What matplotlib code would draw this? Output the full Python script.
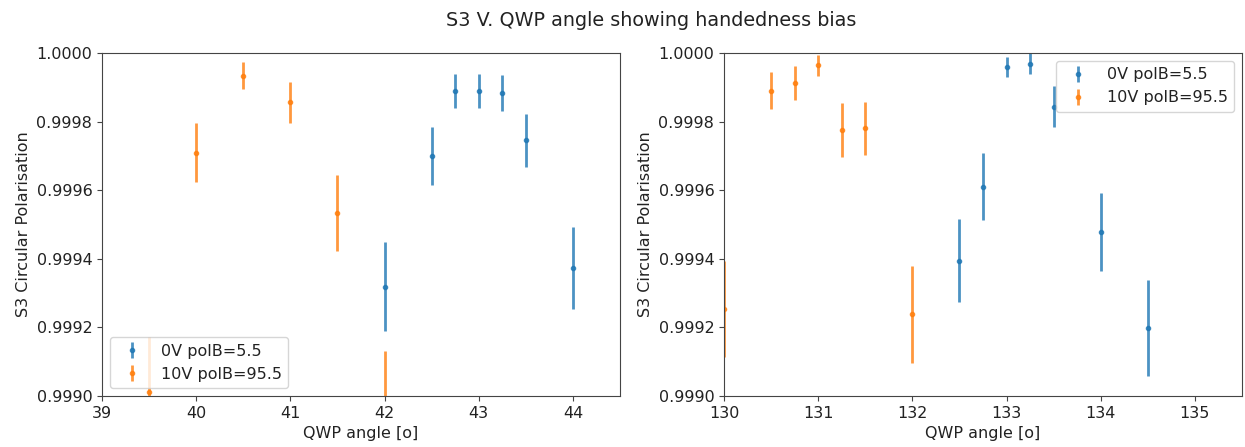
import matplotlib
matplotlib.use("Agg")
import matplotlib.pyplot as plt
from matplotlib.ticker import FormatStrFormatter

# 左图: QWP 角度 39-44.5
left_x_0v = [42.0, 42.5, 42.75, 43.0, 43.25, 43.5, 44.0]
left_y_0v = [0.999319, 0.999700, 0.999890, 0.999890, 0.999884, 0.999746, 0.999374]
left_e_0v = [0.000130, 0.000085, 0.000050, 0.000050, 0.000052, 0.000077, 0.000120]

left_x_10v = [39.5, 40.0, 40.5, 41.0, 41.5, 42.0]
left_y_10v = [0.999011, 0.999709, 0.999934, 0.999856, 0.999534, 0.998985]
left_e_10v = [0.000162, 0.000086, 0.000040, 0.000060, 0.000110, 0.000147]

# 右图: QWP 角度 130-135.5
right_x_0v = [132.5, 132.75, 133.0, 133.25, 133.5, 134.0, 134.5]
right_y_0v = [0.999394, 0.999610, 0.999959, 0.999969, 0.999844, 0.999478, 0.999197]
right_e_0v = [0.000121, 0.000097, 0.000030, 0.000030, 0.000060, 0.000114, 0.000140]

right_x_10v = [130.0, 130.5, 130.75, 131.0, 131.25, 131.5, 132.0]
right_y_10v = [0.999253, 0.999890, 0.999913, 0.999964, 0.999776, 0.999780, 0.999238]
right_e_10v = [0.000140, 0.000054, 0.000050, 0.000030, 0.000078, 0.000078, 0.000142]

label_0v = '0V polB=5.5'
label_10v = '10V polB=95.5'

plt.rcParams['font.size'] = 11.5
plt.rcParams['text.color'] = '#222222'
plt.rcParams['axes.labelcolor'] = '#222222'
plt.rcParams['xtick.color'] = '#444444'
plt.rcParams['ytick.color'] = '#444444'
plt.rcParams['xtick.labelcolor'] = '#222222'
plt.rcParams['ytick.labelcolor'] = '#222222'
plt.rcParams['axes.edgecolor'] = '#444444'

fig = plt.figure(figsize=(12.45, 4.47), dpi=100)
ax1 = fig.add_axes([102 / 1245, 1 - 396 / 447, 518 / 1245, 343 / 447])
ax2 = fig.add_axes([724 / 1245, 1 - 396 / 447, 518 / 1245, 343 / 447])

for ax, x0, y0, e0, x1, y1, e1, xlim, loc in [
    (ax1, left_x_0v, left_y_0v, left_e_0v, left_x_10v, left_y_10v, left_e_10v, (39, 44.5), 'lower left'),
    (ax2, right_x_0v, right_y_0v, right_e_0v, right_x_10v, right_y_10v, right_e_10v, (130, 135.5), 'upper right'),
]:
    ax.errorbar(x0, y0, yerr=e0, fmt='.', elinewidth=2, alpha=0.8, label=label_0v)
    ax.errorbar(x1, y1, yerr=e1, fmt='.', elinewidth=2, alpha=0.8, label=label_10v)
    ax.set_xlim(*xlim)
    ax.set_ylim(0.999, 1.0)
    ax.set_xlabel('QWP angle [o]')
    ax.set_ylabel('S3 Circular Polarisation')
    ax.yaxis.set_major_formatter(FormatStrFormatter('%.4f'))
    ax.legend(loc=loc)

fig.suptitle('S3 V. QWP angle showing handedness bias', x=651 / 1245, y=0.975, fontsize=13.8)

plt.savefig('out.png', dpi=100)
